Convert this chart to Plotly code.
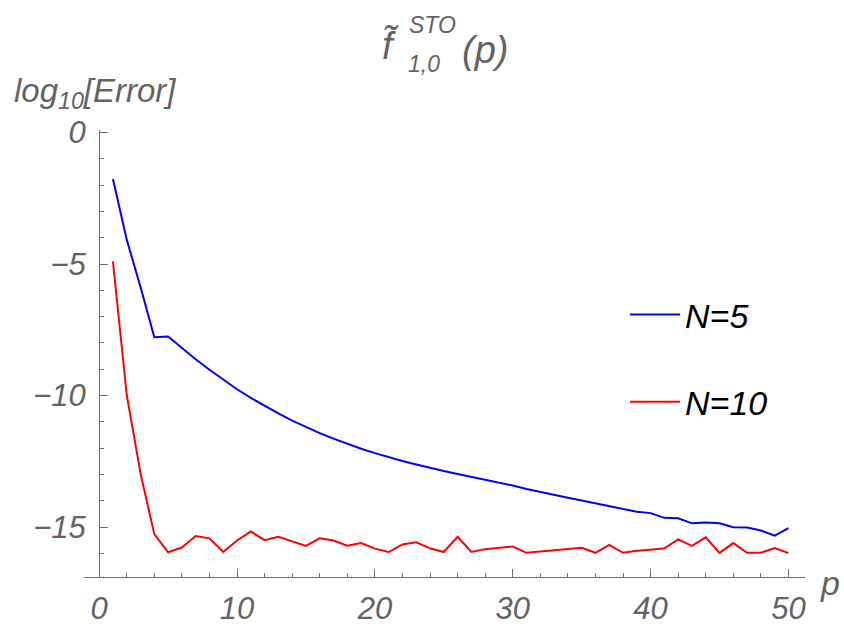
import plotly.graph_objects as go

# ---------------- data ----------------
p_values = list(range(1, 51))

log_err_n5 = [
    -1.76, -4.07, -5.87, -7.78, -7.75, -8.20, -8.62, -9.02, -9.40, -9.76,
    -10.09, -10.39, -10.68, -10.95, -11.20, -11.43, -11.64, -11.84, -12.02, -12.19,
    -12.35, -12.49, -12.62, -12.75, -12.87, -12.98, -13.09, -13.19, -13.30, -13.42,
    -13.55, -13.67, -13.78, -13.89, -13.99, -14.10, -14.21, -14.33, -14.42, -14.47,
    -14.65, -14.67, -14.86, -14.83, -14.86, -15.01, -15.02, -15.13, -15.33, -15.04,
]

log_err_n10 = [
    -4.90, -9.97, -12.96, -15.27, -15.96, -15.78, -15.34, -15.43, -15.95, -15.51,
    -15.17, -15.50, -15.37, -15.54, -15.72, -15.43, -15.51, -15.71, -15.61, -15.82,
    -15.95, -15.66, -15.58, -15.81, -15.95, -15.37, -15.95, -15.84, -15.78, -15.74,
    -15.98, -15.93, -15.88, -15.84, -15.79, -15.98, -15.68, -15.98, -15.90, -15.86,
    -15.81, -15.47, -15.72, -15.39, -15.98, -15.61, -15.98, -15.98, -15.80, -15.99,
]

series_names = ["N=5", "N=10"]
series_colors = ["rgb(0,0,255)", "rgb(255,0,0)"]

# ---------------- layout helpers ----------------
W, H = 844, 630
L, R, T, B = 84, 39, 130, 53
PW, PH = W - L - R, H - T - B


def px(x):
    return (x - L) / PW


def py(y):
    return (H - B - y) / PH


AX = "#6e6e6e"
TXT = "#636363"
FONT = "Liberation Sans"

fig = go.Figure()
for i, (name, ys) in enumerate(zip(series_names, [log_err_n5, log_err_n10])):
    fig.add_trace(go.Scatter(
        x=p_values, y=ys, mode="lines", name=name, legendgroup=f"g{i}",
        line=dict(color=series_colors[i], width=2),
    ))

fig.update_layout(
    width=W, height=H,
    margin=dict(l=L, r=R, t=T, b=B, pad=0, autoexpand=False),
    plot_bgcolor="white", paper_bgcolor="white",
    font=dict(family=FONT, color=TXT),
    showlegend=True,
    legend=dict(
        x=px(625), y=py(286), xanchor="left", yanchor="top",
        font=dict(family=FONT, size=34, color="black", style="italic"),
        tracegroupgap=40, traceorder="grouped",
        bgcolor="rgba(0,0,0,0)", itemwidth=50,
    ),
    xaxis=dict(
        range=[-1.1, 51.2], showgrid=False, zeroline=False, automargin=False,
        showline=True, linecolor=AX, linewidth=1,
        tickmode="linear", tick0=0, dtick=10,
        ticks="inside", ticklen=8, tickcolor=AX, tickwidth=1,
        minor=dict(tickmode="linear", tick0=0, dtick=2, ticks="inside",
                   ticklen=4, tickcolor=AX, tickwidth=1),
        tickfont=dict(family=FONT, size=31, color=TXT, style="italic"),
        ticklabelstandoff=4,
    ),
    yaxis=dict(
        range=[-16.9, 0.1], showgrid=False, zeroline=False, automargin=False,
        anchor="free", position=px(99),
        showline=True, linecolor=AX, linewidth=1,
        tickmode="linear", tick0=0, dtick=5,
        ticks="inside", ticklen=8, tickcolor=AX, tickwidth=1,
        minor=dict(tickmode="linear", tick0=0, dtick=1, ticks="inside",
                   ticklen=4, tickcolor=AX, tickwidth=1),
        tickfont=dict(family=FONT, size=31, color=TXT, style="italic"),
        ticklabelstandoff=7,
    ),
)

annots = [
    # title pieces
    dict(text="f\u0303", x=px(390), y=py(46), xanchor="center", yanchor="middle", size=38),
    dict(text="STO", x=px(407), y=py(25), xanchor="left", yanchor="middle", size=23),
    dict(text="1,0", x=px(406), y=py(64), xanchor="left", yanchor="middle", size=23),
    dict(text="(p)", x=px(460), y=py(50), xanchor="left", yanchor="middle", size=38),
    # axis labels
    dict(text="log<sub>10</sub>[Error]", x=px(12), y=py(93), xanchor="left", yanchor="middle", size=33),
    dict(text="p", x=px(818), y=py(583), xanchor="left", yanchor="middle", size=34),
]
for a in annots:
    fig.add_annotation(
        text=a["text"], x=a["x"], y=a["y"], xref="paper", yref="paper",
        xanchor=a["xanchor"], yanchor=a["yanchor"], showarrow=False,
        font=dict(family=FONT, size=a["size"], color=TXT, style="italic"),
    )

fig.write_html("out.html")
